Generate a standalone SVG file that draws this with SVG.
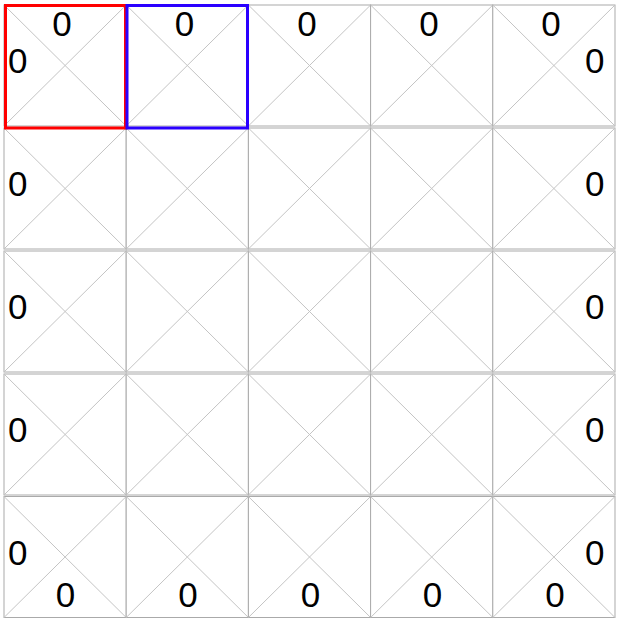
<svg xmlns="http://www.w3.org/2000/svg" width="620" height="624" viewBox="0 0 620 624">
<defs>
<style>
.cb{fill:#fff;stroke:#aaaaaa;stroke-width:1}
.cd{stroke:#c4c4c4;stroke-width:1;fill:none}
.lbl{font-family:"Liberation Sans",Arial,sans-serif;font-size:35px;fill:#000;text-anchor:middle}
.sel{fill:none;stroke-width:3}
</style>
<g id="c">
<rect class="cb" x="0" y="0" width="122.2" height="121"/>
<line class="cd" x1="0" y1="0" x2="122.2" y2="121"/>
<line class="cd" x1="122.2" y1="0" x2="0" y2="121"/>
</g>
</defs>
<rect width="620" height="624" fill="#fff"/>
<g id="grid">
<g id="r0c0"><use href="#c" x="4" y="5"/></g>
<g id="r0c1"><use href="#c" x="126.2" y="5"/></g>
<g id="r0c2"><use href="#c" x="248.4" y="5"/></g>
<g id="r0c3"><use href="#c" x="370.6" y="5"/></g>
<g id="r0c4"><use href="#c" x="492.8" y="5"/></g>
<g id="r1c0"><use href="#c" x="4" y="128"/></g>
<g id="r1c1"><use href="#c" x="126.2" y="128"/></g>
<g id="r1c2"><use href="#c" x="248.4" y="128"/></g>
<g id="r1c3"><use href="#c" x="370.6" y="128"/></g>
<g id="r1c4"><use href="#c" x="492.8" y="128"/></g>
<g id="r2c0"><use href="#c" x="4" y="251"/></g>
<g id="r2c1"><use href="#c" x="126.2" y="251"/></g>
<g id="r2c2"><use href="#c" x="248.4" y="251"/></g>
<g id="r2c3"><use href="#c" x="370.6" y="251"/></g>
<g id="r2c4"><use href="#c" x="492.8" y="251"/></g>
<g id="r3c0"><use href="#c" x="4" y="374"/></g>
<g id="r3c1"><use href="#c" x="126.2" y="374"/></g>
<g id="r3c2"><use href="#c" x="248.4" y="374"/></g>
<g id="r3c3"><use href="#c" x="370.6" y="374"/></g>
<g id="r3c4"><use href="#c" x="492.8" y="374"/></g>
<g id="r4c0"><use href="#c" x="4" y="496.5"/></g>
<g id="r4c1"><use href="#c" x="126.2" y="496.5"/></g>
<g id="r4c2"><use href="#c" x="248.4" y="496.5"/></g>
<g id="r4c3"><use href="#c" x="370.6" y="496.5"/></g>
<g id="r4c4"><use href="#c" x="492.8" y="496.5"/></g>
</g>
<g id="selection">
<rect class="sel" x="5.5" y="5.5" width="120" height="122.5" stroke="#ff0000"/>
<rect class="sel" x="127" y="5.5" width="120.5" height="122.5" stroke="#2a00ff"/>
</g>
<g id="labels" class="lbl">
<text x="62" y="36">0</text>
<text x="184.5" y="36">0</text>
<text x="307" y="36">0</text>
<text x="429" y="36">0</text>
<text x="551" y="36">0</text>
<text x="17.8" y="73">0</text>
<text x="17.8" y="196">0</text>
<text x="17.8" y="319">0</text>
<text x="17.8" y="442">0</text>
<text x="17.8" y="565">0</text>
<text x="594.8" y="73">0</text>
<text x="594.8" y="196">0</text>
<text x="594.8" y="319">0</text>
<text x="594.8" y="442">0</text>
<text x="594.8" y="565">0</text>
<text x="65.5" y="607">0</text>
<text x="188" y="607">0</text>
<text x="310.5" y="607">0</text>
<text x="432.5" y="607">0</text>
<text x="555" y="607">0</text>
</g>
</svg>
